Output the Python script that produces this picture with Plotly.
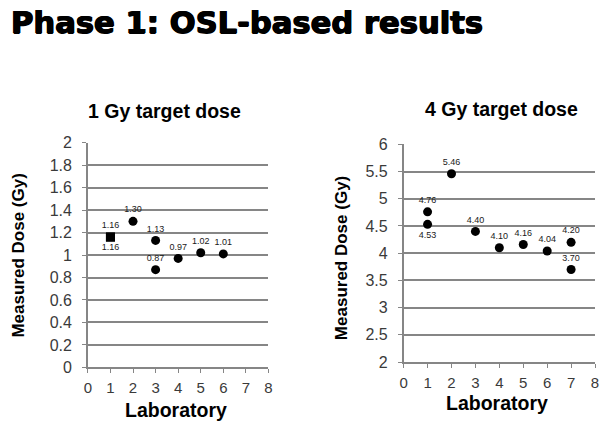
import plotly.graph_objects as go

# ---- data ----
labs_1gy = [1, 1, 2, 3, 3, 4, 5, 6]
dose_1gy = [1.16, 1.16, 1.30, 1.13, 0.87, 0.97, 1.02, 1.01]
pos_1gy = ["top center", "bottom center", "top center", "top center",
           "top center", "top center", "top center", "top center"]
sym_1gy = ["square", "square", "circle", "circle", "circle", "circle", "circle", "circle"]

labs_4gy = [1, 1, 2, 3, 4, 5, 6, 7, 7]
dose_4gy = [4.76, 4.53, 5.46, 4.40, 4.10, 4.16, 4.04, 4.20, 3.70]
pos_4gy = ["top center", "bottom center", "top center", "top center", "top center",
           "top center", "top center", "top center", "top center"]

x_ticks = [0, 1, 2, 3, 4, 5, 6, 7, 8]
y_ticks_1gy = [0, 0.2, 0.4, 0.6, 0.8, 1, 1.2, 1.4, 1.6, 1.8, 2]
y_ticks_4gy = [2, 2.5, 3, 3.5, 4, 4.5, 5, 5.5, 6]

FONT = "Liberation Sans, Arial, sans-serif"
HEAVY = "DejaVu Sans, Liberation Sans, sans-serif"
GRID = "#868686"
TICKC = "#3a3a3a"

fig = go.Figure()

fig.add_trace(go.Scatter(
    x=labs_1gy, y=dose_1gy, mode="markers+text",
    text=[f"{v:.2f}" for v in dose_1gy], textposition=pos_1gy,
    textfont=dict(family=FONT, size=9, color="#1a1a1a"),
    marker=dict(color="black", size=9, symbol=sym_1gy),
    xaxis="x", yaxis="y", showlegend=False, cliponaxis=False))

fig.add_trace(go.Scatter(
    x=labs_4gy, y=dose_4gy, mode="markers+text",
    text=[f"{v:.2f}" for v in dose_4gy], textposition=pos_4gy,
    textfont=dict(family=FONT, size=9, color="#1a1a1a"),
    marker=dict(color="black", size=9, symbol="circle"),
    xaxis="x2", yaxis="y2", showlegend=False, cliponaxis=False))

xcommon = dict(range=[0, 8], tickvals=x_ticks, showgrid=False, zeroline=False,
               showline=True, linecolor=GRID, linewidth=1.5, ticks="outside",
               ticklen=4, tickcolor=GRID, ticklabelstandoff=2,
               tickfont=dict(family=FONT, size=15, color=TICKC))
ycommon = dict(showgrid=True, gridcolor=GRID, gridwidth=1.5, zeroline=False,
               showline=True, linecolor=GRID, linewidth=1.5, ticks="outside",
               ticklen=4, tickcolor=GRID, ticklabelstandoff=7,
               tickfont=dict(family=FONT, size=16, color=TICKC))

fig.update_layout(
    width=602, height=428,
    margin=dict(l=0, r=0, t=0, b=0),
    paper_bgcolor="white", plot_bgcolor="white",
    xaxis=dict(domain=[0.1412, 0.4452], anchor="y", **xcommon),
    yaxis=dict(domain=[0.1255, 0.6724], anchor="x", range=[0, 2],
               tickvals=y_ticks_1gy, ticktext=[f"{v:g}" for v in y_ticks_1gy], **ycommon),
    xaxis2=dict(domain=[0.6728, 0.995], anchor="y2", **xcommon),
    yaxis2=dict(domain=[0.1386, 0.6682], anchor="x2", range=[2, 6],
                tickvals=y_ticks_4gy, ticktext=[f"{v:g}" for v in y_ticks_4gy], **ycommon),
)

ann = [
    dict(text="<b>Phase 1: OSL-based results</b>", x=5, y=15, size=30.6, angle=0,
         xanchor="left", family=HEAVY, shadow="0.7px 0 0 black, -0.7px 0 0 black, 0 0.5px 0 black"),
    dict(text="<b>1 Gy target dose</b>", x=163, y=107, size=19.5, angle=0, xanchor="center", family=FONT),
    dict(text="<b>4 Gy target dose</b>", x=504, y=105, size=19.5, angle=0, xanchor="center", family=FONT),
    dict(text="<b>Laboratory</b>", x=174, y=419, size=19.5, angle=0, xanchor="center", family=FONT),
    dict(text="<b>Laboratory</b>", x=500, y=411, size=19.5, angle=0, xanchor="center", family=FONT),
    dict(text="<b>Measured Dose (Gy)</b>", x=15, y=258, size=17, angle=-90, xanchor="center", family=FONT),
    dict(text="<b>Measured Dose (Gy)</b>", x=342, y=260, size=17, angle=-90, xanchor="center", family=FONT),
]
for a in ann:
    font = dict(family=a["family"], size=a["size"], color="black")
    if "shadow" in a:
        font["shadow"] = a["shadow"]
    fig.add_annotation(text=a["text"], x=a["x"] / 602, y=1 - a["y"] / 428,
                       xref="paper", yref="paper", xanchor=a["xanchor"], yanchor="middle",
                       showarrow=False, textangle=a["angle"], font=font)

fig.write_html("out.html", config={"displayModeBar": False},
               post_script="document.body.style.margin='0';document.body.style.overflow='hidden';")
